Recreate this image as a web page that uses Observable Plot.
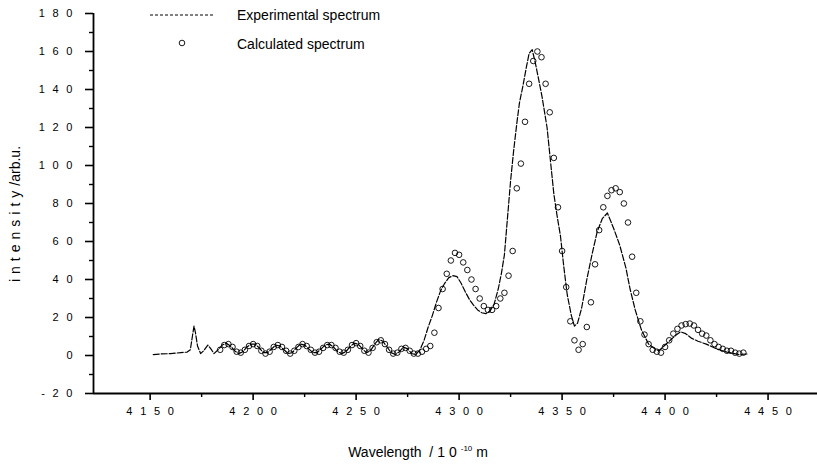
<!DOCTYPE html>
<html><head><meta charset="utf-8">
<script src="https://cdn.jsdelivr.net/npm/d3@7"></script>
<script src="https://cdn.jsdelivr.net/npm/@observablehq/plot@0.6"></script>
<style>
body{margin:0;background:#fff;font-family:"Liberation Sans",Arial,sans-serif;}
#wrap{position:relative;width:817px;height:469px;overflow:hidden;}
.lg{position:absolute;font-size:14px;color:#000;white-space:nowrap;}
#ylab{position:absolute;left:15px;top:214px;transform:translate(-50%,-50%) rotate(-90deg);font-size:14px;white-space:nowrap;}
#xlab{position:absolute;left:418px;top:452px;transform:translate(-50%,-50%);font-size:14px;white-space:nowrap;}
</style></head><body><div id="wrap"></div>
<script>
// ---- data ----
const X_DOMAIN = [4122.5, 4474];
const Y_DOMAIN = [-20, 180];
const xTicks = [4150, 4200, 4250, 4300, 4350, 4400, 4450];
const xMinorTicks = [4175, 4225, 4275, 4325, 4375, 4425];
const yTicks = [-20, 0, 20, 40, 60, 80, 100, 120, 140, 160, 180];
const yMinorTicks = [-10, 10, 30, 50, 70, 90, 110, 130, 150, 170];

const expWavelength = [4151.5,4155,4160,4165,4168,4169.5,4170.5,4171.3,4172,4173,4174.5,4176,4178,4179.5,4181,
 4183,4185,4187,4189,4191,4193,4195,4197,4199,4201,4203,4205,4207,4209,4211,4213,4215,4217,4219,4221,4223,4225,
 4227,4229,4231,4233,4235,4237,4239,4241,4243,4245,4247,4249,4251,4253,4255,4257,4259,4261,4263,4265,4267,4269,
 4271,4273,4275,4277,4279,4281,4283,4285,4287,4289,4291,4293,4295,4297,4299,4301,4303,4305,4307,4309,4311,4313,
 4315,4317,4319,4320.5,4322,4323.3,4325,4326.5,4328,4329.3,4331,4332.7,4334,4335.5,4337,4338.5,4340.3,4342.7,
 4344.3,4346,4347.5,4349.2,4350.8,4352.5,4354.5,4356,4357.5,4359.5,4362,4364.5,4367,4369.5,4372,4375,4378,4381,
 4383,4385.5,4388.5,4392,4395,4397,4399.5,4402.5,4405,4407.5,4410,4413,4416,4420,4425,4430,4436,4440];
const expIntensity = [0.5,0.8,1,1.5,1.8,3,10,15.5,12,5,1,2.5,5.5,3.5,1,
 3,5.5,6.5,5,2.5,1,2,4.5,6,6,4,1.5,1.5,3.5,5.5,5,3,1,1.5,4,6,5.5,
 3.5,1.5,1.5,3.5,5.5,6,4.5,2,1,2,4.5,6.5,6,3.5,1.5,2.5,6,8.5,7.5,4.5,1.5,0.5,
 2,4.5,3.5,1,0.5,3,8,15,21,28,34,38,41,42,41.5,38,33.5,29.5,26.5,24,22.5,22,
 23.5,27,35,43,53,70,92,108,122,133,142,152,159,161,154,146,136,120,
 103,85,74,63,47,32,21,15.5,17,25,40,53,65,72,75,67,58,46,
 35,24,13.5,6,3.5,2.5,5,8,10.5,12.5,11.5,9,7.5,6,3.5,1.8,0.5,0.8];

const calcWavelength = [4184,4186,4188,4190,4192,4194,4196,4198,4200,4202,4204,4206,4208,4210,4212,4214,4216,4218,
 4220,4222,4224,4226,4228,4230,4232,4234,4236,4238,4240,4242,4244,4246,4248,4250,4252,4254,4256,4258,4260,4262,
 4264,4266,4268,4270,4272,4274,4276,4278,4280,4282,4284,4286,4288,4290,4292,4294,4296,4298,4300,4302,4304,4306,
 4308,4310,4312,4314,4316,4318,4320,4322,4324,4326,4328,4330,4332,4334,4336,4338,4340,4342,4344,4346,4348,4350,
 4352,4354,4356,4358,4360,4362,4364,4366,4368,4370,4372,4374,4376,4378,4380,4382,4384,4386,4388,4390,4392,4394,
 4396,4398,4400,4402,4404,4406,4408,4410,4412,4414,4416,4418,4420,4422,4424,4426,4428,4430,4432,4434,4436,4438];
const calcIntensity = [3,5.5,6,4.5,2,1.5,3,5,6,5,2.5,1,2,4.5,5.5,4.5,2.5,1,
 2.5,4.5,6,5,3,1.5,2,4,5.5,5.5,4,2,1.5,3,5.5,6.5,5,2.5,1.5,4,7,8,
 6,3,1,1.5,3.5,4,2.5,1,1,2,3.5,5,12,25,35,43,50,54,53,49,45,40,
 35,30,26,24,24,26,30,33,42,55,88,101,123,143,155,160,157,143,128,104,78,55,
 36,18,8,3,6,15,28,48,66,78,84,87,88,86,80,70,52,33,18,11,6,3,
 2,1.5,4.5,8,11.5,14,15.8,16.5,16.8,15.8,13.5,11.5,10.5,8,6,4.5,3.5,2.5,2.5,1.5,1,1.5];

const expData = expWavelength.map((w, i) => ({w, v: expIntensity[i]}));
const calcData = calcWavelength.map((w, i) => ({w, v: calcIntensity[i]}));

// spaced-out digits, as in the scanned figure
const fmt = d => String(d).split("").join("\u2002\u2009");

const chart = Plot.plot({
  width: 817, height: 469,
  marginLeft: 93, marginRight: 0, marginTop: 13, marginBottom: 76,
  x: {domain: X_DOMAIN},
  y: {domain: Y_DOMAIN},
  style: {fontFamily: "'Liberation Sans', Arial, sans-serif", background: "#fff", color: "#000"},
  marks: [
    Plot.ruleX([X_DOMAIN[0]], {stroke: "#000", strokeWidth: 1.8}),
    Plot.ruleY([Y_DOMAIN[0]], {stroke: "#000", strokeWidth: 1.8}),
    Plot.axisY(yTicks, {tickSize: 8, tickPadding: 13, tickFormat: fmt, fontSize: 11, label: null, strokeWidth: 1.6}),
    Plot.axisY(yMinorTicks, {tickSize: 4, tickFormat: () => "", label: null, strokeWidth: 1.4}),
    Plot.axisX(xTicks, {tickSize: 7, tickPadding: 7, tickFormat: fmt, fontSize: 11, label: null, strokeWidth: 1.6}),
    Plot.axisX(xMinorTicks, {tickSize: 4, tickFormat: () => "", label: null, strokeWidth: 1.4}),
    Plot.line(expData, {x: "w", y: "v", stroke: "#000", strokeWidth: 1.2, strokeDasharray: "6,2"}),
    Plot.dot(calcData, {x: "w", y: "v", r: 2.8, stroke: "#000", strokeWidth: 0.9, fill: "none"})
  ]
});

const wrap = document.getElementById("wrap");
wrap.appendChild(chart);

wrap.insertAdjacentHTML("beforeend", `
<svg style="position:absolute;left:150px;top:10px" width="64" height="10"><line x1="0" y1="5" x2="63" y2="5" stroke="#000" stroke-width="1" stroke-dasharray="3,2"/></svg>
<div class="lg" style="left:237px;top:7px">Experimental spectrum</div>
<svg style="position:absolute;left:176px;top:37px" width="12" height="12"><circle cx="6" cy="6" r="2.8" fill="none" stroke="#000" stroke-width="0.9"/></svg>
<div class="lg" style="left:237px;top:36px">Calculated spectrum</div>
<div id="ylab"><span style="letter-spacing:5px">intensity</span>/arb.u.</div>
<div id="xlab">Wavelength &nbsp;/ <span style="letter-spacing:4px">10</span><sup style="font-size:8px">-10</sup> m</div>
`);
</script>
</body></html>
